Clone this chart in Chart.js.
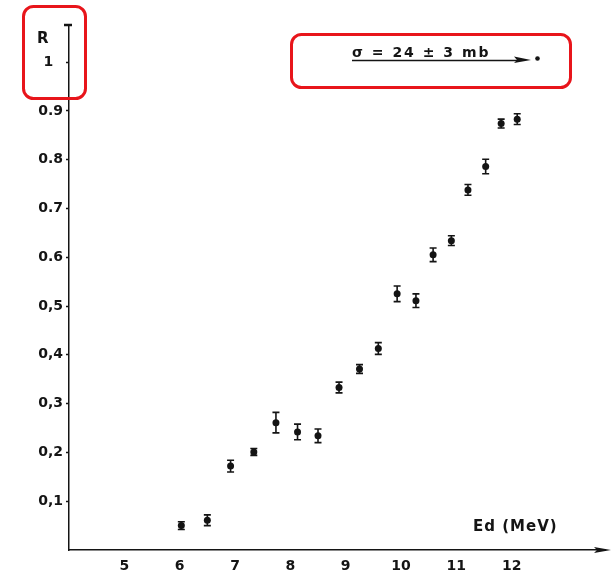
<!DOCTYPE html>
<html>
<head>
<meta charset="utf-8">
<script src="https://cdn.jsdelivr.net/npm/chart.js@4.4.1/dist/chart.umd.min.js"></script>
<style>
    body { margin: 0; background: #ffffff; }
    #rChart { display: block; }
</style>
</head>
<body>
<canvas id="rChart" width="612" height="573"></canvas>
<script>
// deuteron energy (MeV) and ratio R
var energy = [6.03, 6.50, 6.92, 7.34, 7.74, 8.13, 8.50, 8.88, 9.25, 9.59, 9.93, 10.27, 10.58, 10.91, 11.21, 11.53, 11.81, 12.10];
var ratio  = [0.050, 0.061, 0.172, 0.201, 0.261, 0.242, 0.234, 0.333, 0.371, 0.413, 0.525, 0.511, 0.605, 0.634, 0.738, 0.786, 0.874, 0.883];
var ratioErr = [0.008, 0.011, 0.012, 0.007, 0.021, 0.016, 0.014, 0.011, 0.009, 0.012, 0.016, 0.014, 0.014, 0.010, 0.011, 0.015, 0.009, 0.011];

var xTicks = [5, 6, 7, 8, 9, 10, 11, 12];
var yTicks = [0.1, 0.2, 0.3, 0.4, 0.5, 0.6, 0.7, 0.8, 0.9, 1];
var yTickLabels = ["0,1", "0,2", "0,3", "0,4", "0,5", "0.6", "0.7", "0.8", "0.9", "1  "];

var INK = "#141414";
var FONT = "'DejaVu Sans', sans-serif";

var rChart = {};

rChart.errorBars = {
    id: "errorBars",
    afterDatasetsDraw: function(chart) {
        const ctx = chart.ctx;
        const xs = chart.scales.x;
        const ys = chart.scales.y;
        ctx.save();
        ctx.strokeStyle = INK;
        ctx.lineWidth = 1.6;
        for (let i=0; i<energy.length; i++) {
            let x = xs.getPixelForValue(energy[i]);
            let top = ys.getPixelForValue(ratio[i] + ratioErr[i]);
            let bottom = ys.getPixelForValue(ratio[i] - ratioErr[i]);
            ctx.beginPath();
            ctx.moveTo(x, top);
            ctx.lineTo(x, bottom);
            ctx.moveTo(x - 3.5, top);
            ctx.lineTo(x + 3.5, top);
            ctx.moveTo(x - 3.5, bottom);
            ctx.lineTo(x + 3.5, bottom);
            ctx.stroke();
        }
        ctx.restore();
    },
};

rChart.decor = {
    id: "decor",
    afterDraw: function(chart) {
        const ctx = chart.ctx;
        const area = chart.chartArea;
        ctx.save();
        ctx.strokeStyle = INK;
        ctx.fillStyle = INK;

        // end bar on top of the R axis
        ctx.lineWidth = 2.5;
        ctx.beginPath();
        ctx.moveTo(area.left - 5, area.top);
        ctx.lineTo(area.left + 3, area.top);
        ctx.stroke();

        // arrow on the energy axis
        ctx.lineWidth = 1.5;
        ctx.beginPath();
        ctx.moveTo(area.right, area.bottom);
        ctx.lineTo(area.right + 8, area.bottom);
        ctx.stroke();
        ctx.beginPath();
        ctx.moveTo(area.right + 13, area.bottom);
        ctx.lineTo(area.right - 4, area.bottom - 3);
        ctx.lineTo(area.right - 1, area.bottom);
        ctx.lineTo(area.right - 4, area.bottom + 3);
        ctx.closePath();
        ctx.fill();

        // axis names
        ctx.font = "bold 15px " + FONT;
        ctx.textBaseline = "middle";
        ctx.textAlign = "left";
        ctx.fillText("R", 37, 39);
        ctx.letterSpacing = "1px";
        ctx.fillText("Ed (MeV)", 473, 527);

        // cross section note
        ctx.font = "bold 14px " + FONT;
        ctx.letterSpacing = "2px";
        ctx.textBaseline = "alphabetic";
        ctx.fillText("σ = 24 ± 3 mb", 352, 57);
        ctx.letterSpacing = "0px";
        ctx.lineWidth = 1.3;
        ctx.beginPath();
        ctx.moveTo(352, 60.5);
        ctx.lineTo(520, 60.5);
        ctx.stroke();
        ctx.beginPath();
        ctx.moveTo(531, 60);
        ctx.lineTo(514, 56.5);
        ctx.lineTo(517, 60);
        ctx.lineTo(514, 63);
        ctx.closePath();
        ctx.fill();
        ctx.beginPath();
        ctx.arc(537.5, 58.5, 2.3, 0, Math.PI * 2);
        ctx.fill();

        // red highlight boxes
        ctx.strokeStyle = "#e8151b";
        ctx.lineWidth = 3;
        ctx.beginPath();
        ctx.roundRect(23.5, 6.5, 62, 92, 10);
        ctx.stroke();
        ctx.beginPath();
        ctx.roundRect(291.5, 34.5, 279, 53, 10);
        ctx.stroke();
        ctx.restore();
    },
};

rChart.CONFIG = {
    type: "scatter",
    data: {
        datasets: [
            {
                label: "R",
                data: energy.map((e, i) => ({ x: e, y: ratio[i] })),
                pointRadius: 3.5,
                pointHoverRadius: 3.5,
                pointBackgroundColor: INK,
                pointBorderColor: INK,
                pointBorderWidth: 0,
            },
        ],
    },
    options: {
        responsive: false,
        animation: false,
        layout: {
            padding: { left: 0, right: 14, top: 25, bottom: 0 },
        },
        plugins: {
            legend: { display: false },
            tooltip: { enabled: false },
        },
        scales: {
            x: {
                type: "linear",
                min: 4,
                max: 13.56,
                afterBuildTicks: function(axis) {
                    axis.ticks = xTicks.map(v => ({ value: v }));
                },
                afterFit: function(axis) {
                    axis.height = 23;
                },
                grid: { display: false, drawTicks: false },
                border: { display: true, color: INK, width: 1.5 },
                ticks: {
                    color: INK,
                    padding: 8,
                    maxRotation: 0,
                    autoSkip: false,
                    font: { family: FONT, size: 14, weight: "bold" },
                },
            },
            y: {
                type: "linear",
                min: 0,
                max: 1.076,
                afterBuildTicks: function(axis) {
                    axis.ticks = yTicks.map(v => ({ value: v }));
                },
                afterFit: function(axis) {
                    axis.width = 69;
                },
                grid: {
                    drawOnChartArea: false,
                    drawTicks: true,
                    tickLength: 3,
                    tickWidth: 1.5,
                    color: INK,
                },
                border: { display: true, color: INK, width: 1.5 },
                ticks: {
                    color: INK,
                    padding: 3,
                    autoSkip: false,
                    font: { family: FONT, size: 14, weight: "bold" },
                    callback: function(value) {
                        let index = yTicks.indexOf(value);
                        return index >= 0 ? yTickLabels[index] : "";
                    },
                },
            },
        },
    },
    plugins: [rChart.errorBars, rChart.decor],
};

rChart.element = document.getElementById("rChart");
rChart.chart = new Chart(rChart.element, rChart.CONFIG);
</script>
</body>
</html>
